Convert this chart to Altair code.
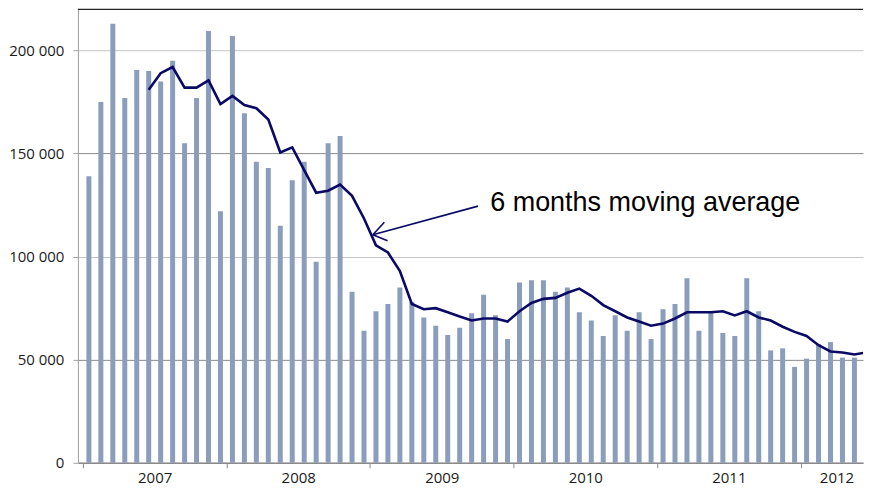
import altair as alt
import pandas as pd

# ---- data ----
years = ["2007", "2008", "2009", "2010", "2011", "2012"]
first_year = 2007

# monthly values, Jan 2007 .. May 2012
volumes = [
    139000, 175000, 213000, 177000, 190500, 190000, 185000, 195000, 155000, 177000, 209500, 122000,
    207000, 169500, 146000, 143000, 115000, 137000, 146000, 97500, 155000, 158500, 83000, 64000,
    73500, 77000, 85000, 78000, 70500, 66500, 62000, 65500, 72500, 81500, 71500, 60000,
    87500, 88500, 88500, 83000, 85000, 73000, 69000, 61500, 71500, 64000, 73000, 60000,
    74500, 77000, 89500, 64000, 73000, 63000, 61500, 89500, 73500, 54500, 55500, 46500,
    50500, 57500, 58500, 51000, 51000,
]

# 6 months moving average, starting at the 6th month (Jun 2007)
ma_start = 5
moving_avg = [
    181000, 189000, 192000, 182000, 182000, 185500, 174000,
    178000, 173500, 172000, 166500, 150500, 153000, 142000, 131000, 132000, 135000, 129500, 118500,
    105500, 102000, 93000, 77000, 74500, 75000, 73000, 71000, 69000, 70000, 70000, 68500,
    73500, 77500, 79500, 80000, 82500, 84500, 81000, 76500, 73500, 70500, 68500, 66500,
    67500, 70000, 73000, 73000, 73000, 73500, 71500, 73500, 70500, 69000, 66000, 63500,
    61500, 57000, 54000, 53500, 52500, 53500,
]

y_ticks = [0, 50000, 100000, 150000, 200000]
y_max = 220000

annotation_text = "6 months moving average"
annotation_pos = (34.05, 122100)         # (month, value) of the text's left baseline
arrow_tip = (24.24, 110600)
arrow_tail = (33.03, 124500)
arrow_barbs = [(25.2, 116700), (25.47, 107700)]

# ---- layout / style ----
PLOT_W = 786
PLOT_H = 454
X_END = 64.8
BAR_COLOR = "#8b9dbc"
LINE_COLOR = "#0a0a66"
FONT = "Open Sans"

bars_df = pd.DataFrame({"m": [i + 0.5 for i in range(len(volumes))], "v": volumes})
ma_df = pd.DataFrame({"m": [ma_start + i + 0.5 for i in range(len(moving_avg))], "v": moving_avg})

arrow_rows = [dict(x=arrow_tail[0], y=arrow_tail[1], x2=arrow_tip[0], y2=arrow_tip[1])]
for bx, by in arrow_barbs:
    arrow_rows.append(dict(x=arrow_tip[0], y=arrow_tip[1], x2=bx, y2=by))
arrow_df = pd.DataFrame(arrow_rows)
text_df = pd.DataFrame({"x": [annotation_pos[0]], "y": [annotation_pos[1]], "t": [annotation_text]})

year_tick_vals = [12 * k for k in range(len(years))]
year_label_vals = [12 * k + 6 for k in range(len(years) - 1)] + [60 + 3]
x_vals = sorted(year_tick_vals + year_label_vals)

x_scale = alt.Scale(domain=[0, X_END], nice=False, zero=False)
y_scale = alt.Scale(domain=[0, y_max], nice=False)

x_axis = alt.Axis(
    values=x_vals,
    labelExpr=f"datum.value % 12 === 0 ? '' : '' + ({first_year} + floor(datum.value / 12))",
    grid=False,
    title=None,
    tickSize=5,
    tickColor="#888888",
    tickOpacity={"condition": {"test": "datum.value % 12 === 0", "value": 1}, "value": 0},
    domainColor="#8a8a8a",
    domainWidth=1.5,
    labelFont=FONT,
    labelFontSize=15,
    labelColor="#1a1a1a",
    labelPadding=3,
    labelOverlap=False,
    labelFlush=False,
)
y_axis = alt.Axis(
    values=y_ticks,
    labelExpr="replace(format(datum.value, ','), ',', ' ')",
    grid=True,
    gridColor={"condition": {"test": "datum.value % 100000 === 0", "value": "#c4c4c4"}, "value": "#8c8c8c"},
    gridWidth=1,
    title=None,
    tickSize=5,
    tickColor="#a0a0a0",
    domainColor="#a0a0a0",
    labelFont=FONT,
    labelFontSize=15,
    labelColor="#1a1a1a",
    labelPadding=9,
)

bars = alt.Chart(bars_df).mark_bar(width=5, color=BAR_COLOR).encode(
    x=alt.X("m:Q", scale=x_scale, axis=x_axis),
    y=alt.Y("v:Q", scale=y_scale, axis=y_axis),
)

line = alt.Chart(ma_df).mark_line(color=LINE_COLOR, strokeWidth=2.6, clip=True).encode(
    x=alt.X("m:Q", scale=x_scale),
    y=alt.Y("v:Q", scale=y_scale),
)

arrow = alt.Chart(arrow_df).mark_rule(color=LINE_COLOR, strokeWidth=1.6).encode(
    x="x:Q", y="y:Q", x2="x2:Q", y2="y2:Q"
)

label = alt.Chart(text_df).mark_text(
    align="left", baseline="alphabetic", font="Liberation Sans", fontSize=27, color="#000000"
).encode(x="x:Q", y="y:Q", text="t:N")

top_border = alt.Chart(text_df).mark_rule(color="#222222", strokeWidth=1.2).encode(
    x=alt.value(0), x2=alt.value(PLOT_W), y=alt.value(0)
)

chart = (
    alt.layer(bars, line, arrow, label, top_border)
    .properties(
        width=PLOT_W,
        height=PLOT_H,
        background="white",
        padding={"left": 0, "top": 0, "right": 0, "bottom": 0},
    )
    .configure_view(stroke="transparent", strokeWidth=0)
)

chart.save("out.html", embed_options={"renderer": "svg", "actions": False})
